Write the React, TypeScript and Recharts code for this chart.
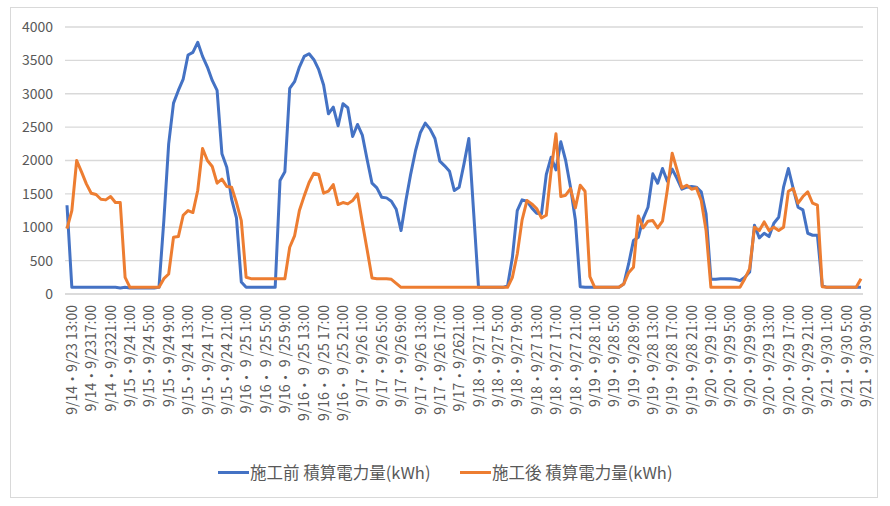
import { CartesianGrid, Line, LineChart, XAxis, YAxis } from "recharts";

// one tick label every 4 hours, starting 9/14・9/23 13:00
const xTickLabels = [
  "9/14・9/23 13:00", "9/14・9/2317:00", "9/14・9/2321:00",
  "9/15・9/24 1:00", "9/15・9/24 5:00", "9/15・9/24 9:00", "9/15・9/24 13:00", "9/15・9/24 17:00", "9/15・9/24 21:00",
  "9/16・ 9 /25 1:00", "9/16・ 9 /25 5:00", "9/16・ 9 /25 9:00", "9/16・ 9 /25 13:00", "9/16・ 9 /25 17:00", "9/16・ 9 /25 21:00",
  "9/17・9/26 1:00", "9/17・9/26 5:00", "9/17・9/26 9:00", "9/17・9/26 13:00", "9/17・9/26 17:00", "9/17・9/2621:00",
  "9/18・9/27 1:00", "9/18・9/27 5:00", "9/18・9/27 9:00", "9/18・9/27 13:00", "9/18・9/27 17:00", "9/18・9/27 21:00",
  "9/19・9/28 1:00", "9/19・9/28 5:00", "9/19・9/28 9:00", "9/19・9/28 13:00", "9/19・9/28 17:00", "9/19・9/28 21:00",
  "9/20・9/29 1:00", "9/20・9/29 5:00", "9/20・9/29 9:00", "9/20・9/29 13:00", "9/20・9/29 17:00", "9/20・9/29 21:00",
  "9/21・9/30 1:00", "9/21・9/30 5:00", "9/21・9/30 9:00",
];

const yTicks = [0, 500, 1000, 1500, 2000, 2500, 3000, 3500, 4000];

// hourly values, 施工前 (kWh)
const beforeKwh = [
  // 9/14 13:00-23:00
  1330, 100, 100, 100, 100, 100, 100, 100, 100, 100, 100,
  // 9/15
  90, 100, 90, 90, 90, 90, 90, 90, 100, 1100, 2250, 2860,
  3050, 3220, 3580, 3620, 3770, 3560, 3400, 3200, 3050, 2100, 1900, 1420,
  // 9/16
  1140, 180, 100, 100, 100, 100, 100, 100, 100, 1700, 1830, 3080,
  3180, 3400, 3560, 3600, 3510, 3360, 3130, 2700, 2800, 2520, 2850, 2790,
  // 9/17
  2360, 2540, 2380, 2010, 1660, 1590, 1450, 1440, 1390, 1270, 950, 1400,
  1800, 2150, 2420, 2560, 2470, 2330, 1990, 1920, 1840, 1550, 1600, 1950,
  // 9/18
  2330, 1215, 100, 100, 100, 100, 100, 100, 120, 550, 1250, 1410,
  1390, 1290, 1210, 1200, 1790, 2050, 1860, 2280, 2000, 1600, 1110, 110,
  // 9/19
  100, 100, 100, 100, 100, 100, 100, 100, 150, 450, 800, 850,
  1130, 1300, 1800, 1660, 1880, 1690, 1870, 1730, 1570, 1600, 1610, 1600,
  // 9/20
  1530, 1200, 220, 220, 230, 230, 230, 220, 200, 250, 330, 1030,
  840, 910, 860, 1060, 1150, 1600, 1880, 1580, 1300, 1260, 910, 880,
  // 9/21 0:00-9:00
  880, 120, 100, 100, 100, 100, 100, 100, 100, 100,
];

// hourly values, 施工後 (kWh)
const afterKwh = [
  // 9/14 13:00-23:00
  980, 1250, 2000, 1830, 1650, 1510, 1490, 1420, 1410, 1460, 1370,
  // 9/15
  1370, 250, 100, 100, 100, 100, 100, 100, 100, 230, 300, 850,
  860, 1180, 1250, 1220, 1550, 2180, 2000, 1910, 1660, 1720, 1610, 1600,
  // 9/16
  1370, 1100, 250, 230, 230, 230, 230, 230, 230, 230, 230, 700,
  870, 1250, 1470, 1670, 1810, 1790, 1510, 1540, 1640, 1340, 1370, 1350,
  // 9/17
  1400, 1500, 1070, 660, 240, 230, 230, 230, 220, 160, 100, 100,
  100, 100, 100, 100, 100, 100, 100, 100, 100, 100, 100, 100,
  // 9/18
  100, 100, 100, 100, 100, 100, 100, 100, 100, 250, 600, 1110,
  1400, 1350, 1280, 1140, 1180, 1850, 2400, 1460, 1480, 1580, 1290, 1630,
  // 9/19
  1540, 260, 100, 100, 100, 100, 100, 100, 150, 320, 400, 1170,
  990, 1090, 1100, 990, 1090, 1560, 2110, 1860, 1590, 1630, 1570, 1590,
  // 9/20
  1400, 950, 100, 100, 100, 100, 100, 100, 100, 230, 380, 1000,
  950, 1080, 950, 1000, 950, 1000, 1540, 1580, 1360, 1460, 1530, 1360,
  // 9/21 0:00-9:00
  1330, 110, 100, 100, 100, 100, 100, 100, 100, 230,
];

const BLUE = "#4472C4";
const ORANGE = "#ED7D31";
const TEXT = "#595959";
const FONT = "'Noto Sans CJK JP', 'Noto Sans', sans-serif";

const chartData = beforeKwh.map((before, hour) => ({ hour, before, after: afterKwh[hour] }));
const xTicks = xTickLabels.map((_, k) => k * 4);

const HourTick = ({ x, y, payload }: any) => (
  <text
    transform={`translate(${x + 4},${y + 11}) rotate(-90)`}
    textAnchor="end"
    dominantBaseline="central"
    fill={TEXT}
    fontSize={14}
    fontFamily={FONT}
  >
    {xTickLabels[Math.round(payload.value / 4)]}
  </text>
);

const legendItems = [
  { name: "施工前 積算電力量(kWh)", color: BLUE, left: 218 },
  { name: "施工後 積算電力量(kWh)", color: ORANGE, left: 460 },
];

export default function App() {
  return (
    <div style={{ position: "absolute", left: 0, top: 0, width: 890, height: 506, background: "#fff" }}>
      <div
        style={{
          position: "absolute",
          left: 10,
          top: 7,
          width: 866,
          height: 489,
          border: "1px solid #d9d9d9",
        }}
      />
      <LineChart
        width={890}
        height={506}
        data={chartData}
        margin={{ top: 27, right: 27, left: 0, bottom: 182 }}
        style={{ position: "absolute", left: 0, top: 0 }}
      >
        <CartesianGrid vertical={false} stroke="#d9d9d9" strokeWidth={1.3} />
        <XAxis
          dataKey="hour"
          type="number"
          domain={[0, 164]}
          ticks={xTicks}
          interval={0}
          padding={{ left: 2, right: 2 }}
          height={30}
          tickLine={false}
          tickSize={0}
          tickMargin={0}
          axisLine={{ stroke: "#d9d9d9", strokeWidth: 1.5 }}
          tick={<HourTick />}
        />
        <YAxis
          domain={[0, 4000]}
          ticks={yTicks}
          width={65}
          axisLine={false}
          tickLine={false}
          tickSize={0}
          tickMargin={12}
          tick={{ fill: TEXT, fontSize: 14, fontFamily: FONT }}
        />
        <Line
          dataKey="before"
          stroke={BLUE}
          strokeWidth={3}
          dot={false}
          strokeLinejoin="round"
          isAnimationActive={false}
        />
        <Line
          dataKey="after"
          stroke={ORANGE}
          strokeWidth={3}
          dot={false}
          strokeLinejoin="round"
          isAnimationActive={false}
        />
      </LineChart>
      {legendItems.map((item) => (
        <div
          key={item.name}
          style={{
            position: "absolute",
            left: item.left,
            top: 460,
            height: 24,
            display: "flex",
            alignItems: "center",
            fontFamily: FONT,
            fontSize: 16.5,
            color: TEXT,
            whiteSpace: "nowrap",
          }}
        >
          <span style={{ display: "inline-block", width: 31, height: 3, background: item.color, marginRight: 1 }} />
          {item.name}
        </div>
      ))}
    </div>
  );
}
